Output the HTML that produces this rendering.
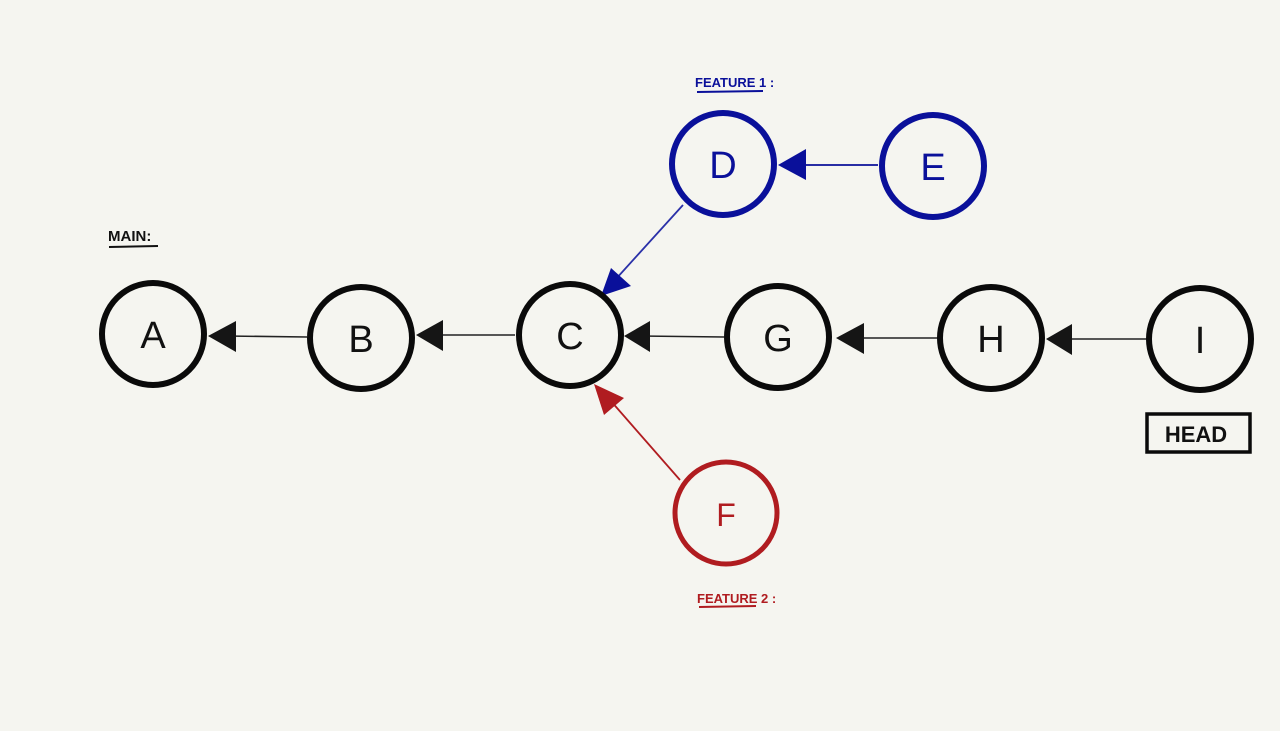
<!DOCTYPE html>
<html><head><style>body{margin:0;background:#f5f5f0}svg{display:block}</style></head><body>
<svg width="1280" height="731" viewBox="0 0 1280 731" xmlns="http://www.w3.org/2000/svg">
<rect width="1280" height="731" fill="#f5f5f0"/>
<g stroke="#222" stroke-width="1.6">
<line x1="307" y1="337" x2="225" y2="336"/>
<line x1="515" y1="335" x2="433" y2="335"/>
<line x1="724" y1="337" x2="640" y2="336"/>
<line x1="938" y1="338" x2="852" y2="338"/>
<line x1="1146" y1="339" x2="1062" y2="339"/>
</g>
<g fill="#151515">
<polygon points="208,336 236,321 236,352"/>
<polygon points="416,335 443,320 443,351"/>
<polygon points="624,336 650,321 650,352"/>
<polygon points="836,338 864,323 864,354"/>
<polygon points="1046,339 1072,324 1072,355"/>
</g>
<line x1="806" y1="165" x2="878" y2="165" stroke="#0a109a" stroke-width="1.8"/>
<polygon points="778,165 806,149 806,180" fill="#0a109a"/>
<line x1="683" y1="205" x2="615" y2="280" stroke="#2a30a8" stroke-width="1.8"/>
<polygon points="601,296 611,268 631,286" fill="#0a109a"/>
<line x1="680" y1="480" x2="610" y2="400" stroke="#b01c20" stroke-width="1.8"/>
<polygon points="594,384 624,398 604,415" fill="#b01c20"/>
<g fill="none" stroke="#0a0a0a" stroke-width="6">
<circle cx="153" cy="334" r="51"/>
<circle cx="361" cy="338" r="51"/>
<circle cx="570" cy="335" r="51"/>
<circle cx="778" cy="337" r="51"/>
<circle cx="991" cy="338" r="51"/>
<circle cx="1200" cy="339" r="51"/>
</g>
<g fill="none" stroke="#0a109a" stroke-width="6">
<circle cx="723" cy="164" r="51"/>
<circle cx="933" cy="166" r="51"/>
</g>
<circle cx="726" cy="513" r="51" fill="none" stroke="#b01c20" stroke-width="5"/>
<rect x="1147" y="414" width="103" height="38" fill="none" stroke="#0a0a0a" stroke-width="3.5"/>
<g font-family="Liberation Sans, sans-serif" text-anchor="middle" font-size="38">
<text x="153" y="348" fill="#111">A</text>
<text x="361" y="352" fill="#111">B</text>
<text x="570" y="349" fill="#111">C</text>
<text x="778" y="351" fill="#111">G</text>
<text x="991" y="352" fill="#111">H</text>
<text x="1200" y="353" fill="#111">I</text>
<text x="723" y="178" fill="#0a109a">D</text>
<text x="933" y="180" fill="#0a109a">E</text>
<text x="726" y="526" fill="#b01c20" font-size="32">F</text>
<text x="1196" y="442" fill="#111" font-size="22" font-weight="bold">HEAD</text>
</g>
<g font-family="Liberation Sans, sans-serif" font-weight="bold" font-size="15">
<text x="108" y="241" fill="#111">MAIN:</text>
<text x="695" y="87" fill="#0a109a" font-size="13">FEATURE 1 :</text>
<text x="697" y="603" fill="#b01c20" font-size="13">FEATURE 2 :</text>
</g>
<g stroke-width="2">
<line x1="109" y1="247" x2="158" y2="246" stroke="#111"/>
<line x1="697" y1="92" x2="763" y2="91" stroke="#0a109a"/>
<line x1="699" y1="607" x2="756" y2="606" stroke="#b01c20"/>
</g>
</svg>
</body></html>
